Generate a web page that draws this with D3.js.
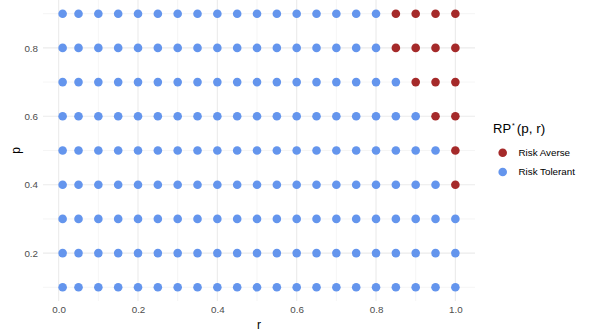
<!DOCTYPE html>
<html>
<head>
<meta charset="utf-8">
<script src="https://cdn.jsdelivr.net/npm/d3@7"></script>
<style>
  body { margin: 0; background: #fff; }
  svg { display: block; font-family: "Liberation Sans", Arial, sans-serif; }
</style>
</head>
<body>
<svg id="chart" width="609" height="332"></svg>
<script>
// Grid of (r, p) combinations and the resulting risk preference class
const rValues = [0.01, 0.05, 0.10, 0.15, 0.20, 0.25, 0.30, 0.35, 0.40, 0.45, 0.50,
                 0.55, 0.60, 0.65, 0.70, 0.75, 0.80, 0.85, 0.90, 0.95, 1.00];
const pValues = [0.1, 0.2, 0.3, 0.4, 0.5, 0.6, 0.7, 0.8, 0.9];
// Smallest r at which each p becomes risk averse (null = never)
const averseFrom = [null, null, null, 1.00, 1.00, 0.95, 0.90, 0.85, 0.85];
const classes = ["Risk Averse", "Risk Tolerant"];
const classColors = ["#A52A2A", "#6495ED"];
const xTicks = [0.0, 0.2, 0.4, 0.6, 0.8, 1.0];
const yTicks = [0.2, 0.4, 0.6, 0.8];
const xMinor = [0.1, 0.3, 0.5, 0.7, 0.9];
const yMinor = [0.1, 0.3, 0.5, 0.7, 0.9];

const points = [];
pValues.forEach((p, i) => {
  rValues.forEach(r => {
    const a = averseFrom[i];
    points.push({ r, p, cls: (a !== null && r >= a - 1e-9) ? classes[0] : classes[1] });
  });
});

const svg = d3.select("#chart");
const panel = { left: 43, right: 475, top: 0, bottom: 301 };

// Continuous scales with 5% expansion on each side
const xr = d3.extent(rValues), yr = d3.extent(pValues);
const xpad = (xr[1] - xr[0]) * 0.05, ypad = (yr[1] - yr[0]) * 0.05;
const x = d3.scaleLinear().domain([xr[0] - xpad, xr[1] + xpad]).range([panel.left, panel.right]);
const y = d3.scaleLinear().domain([yr[0] - ypad, yr[1] + ypad]).range([panel.bottom, panel.top]);
const color = d3.scaleOrdinal().domain(classes).range(classColors);

// Grid lines
const grid = svg.append("g");
grid.selectAll(".xminor").data(xMinor).join("line")
  .attr("x1", d => x(d)).attr("x2", d => x(d))
  .attr("y1", panel.top).attr("y2", panel.bottom)
  .attr("stroke", "#ececec").attr("stroke-width", 0.55);
grid.selectAll(".yminor").data(yMinor).join("line")
  .attr("y1", d => y(d)).attr("y2", d => y(d))
  .attr("x1", panel.left).attr("x2", panel.right)
  .attr("stroke", "#ececec").attr("stroke-width", 0.55);
grid.selectAll(".xmajor").data(xTicks).join("line")
  .attr("x1", d => x(d)).attr("x2", d => x(d))
  .attr("y1", panel.top).attr("y2", panel.bottom)
  .attr("stroke", "#ebebeb").attr("stroke-width", 1.1);
grid.selectAll(".ymajor").data(yTicks).join("line")
  .attr("y1", d => y(d)).attr("y2", d => y(d))
  .attr("x1", panel.left).attr("x2", panel.right)
  .attr("stroke", "#ebebeb").attr("stroke-width", 1.1);

// Axes (labels only, no domain line or tick marks)
const xAxis = svg.append("g")
  .attr("transform", `translate(0,${panel.bottom})`)
  .call(d3.axisBottom(x).tickValues(xTicks).tickFormat(d3.format(".1f")).tickSize(0).tickPadding(5));
const yAxis = svg.append("g")
  .attr("transform", `translate(${panel.left},0)`)
  .call(d3.axisLeft(y).tickValues(yTicks).tickFormat(d3.format(".1f")).tickSize(0).tickPadding(5));
[xAxis, yAxis].forEach(a => {
  a.select(".domain").remove();
  a.selectAll("text").attr("fill", "#4d4d4d").style("font-size", "9.8px");
});

// Points
svg.append("g").selectAll("circle").data(points).join("circle")
  .attr("cx", d => x(d.r)).attr("cy", d => y(d.p))
  .attr("r", 4.3)
  .attr("fill", d => color(d.cls));

// Axis titles
svg.append("text").attr("x", (panel.left + panel.right) / 2).attr("y", 329)
  .attr("text-anchor", "middle").style("font-size", "12px").attr("fill", "#000").text("r");
svg.append("text").attr("transform", `translate(16,${(panel.top + panel.bottom) / 2}) rotate(-90)`)
  .attr("text-anchor", "middle").attr("dy", "0.35em").style("font-size", "12px").attr("fill", "#000").text("p");

// Legend
const legend = svg.append("g").attr("transform", "translate(493,0)");
const title = legend.append("text").attr("x", 0).attr("y", 133).style("font-size", "13px").attr("fill", "#000");
title.append("tspan").text("RP");
title.append("tspan").attr("dy", -5).attr("dx", 1).style("font-size", "7px").text("*");
title.append("tspan").attr("dy", 5).attr("dx", 2).style("font-size", "13.5px").text("(p, r)");
classes.forEach((c, i) => {
  const cy = 152.7 + i * 19.3;
  legend.append("circle").attr("cx", 9.7).attr("cy", cy).attr("r", 4.3).attr("fill", color(c));
  legend.append("text").attr("x", 25.5).attr("y", cy).attr("dy", "0.35em")
    .style("font-size", "9.8px").attr("fill", "#000").text(c);
});
</script>
</body>
</html>
